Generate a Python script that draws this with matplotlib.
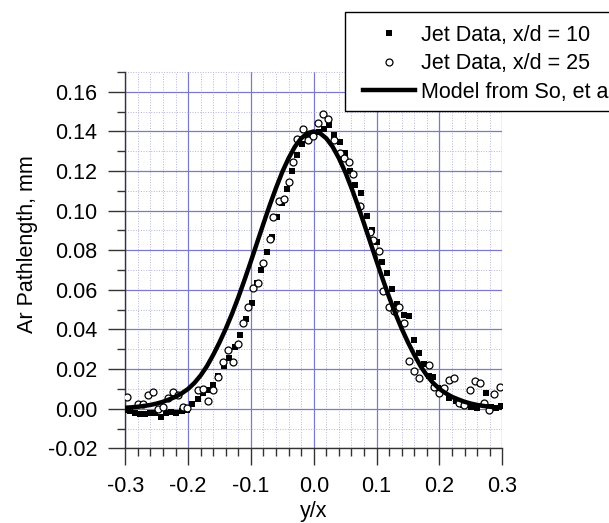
import numpy as np
import matplotlib
matplotlib.use("Agg")
import matplotlib.pyplot as plt
from matplotlib.ticker import MultipleLocator, FormatStrFormatter
from matplotlib.patches import Rectangle

plt.rcParams['font.family'] = ['Liberation Sans', 'DejaVu Sans']

# jet data, x/d = 10 (filled squares)
x10 = [-0.300, -0.292, -0.285, -0.277, -0.269, -0.261, -0.252, -0.243, -0.235, -0.227,
       -0.219, -0.210, -0.202, -0.193, -0.185, -0.177, -0.168, -0.160, -0.152, -0.143,
       -0.135, -0.126, -0.118, -0.108, -0.099, -0.091, -0.084, -0.075, -0.067, -0.059,
       -0.050, -0.042, -0.034, -0.026, -0.018, -0.009, 0.000, 0.008, 0.016, 0.024,
       0.032, 0.042, 0.050, 0.058, 0.066, 0.075, 0.084, 0.092, 0.100, 0.108,
       0.116, 0.124, 0.133, 0.143, 0.151, 0.159, 0.167, 0.176, 0.183, 0.190,
       0.198, 0.206, 0.216, 0.226, 0.238, 0.250, 0.260, 0.274, 0.282, 0.290, 0.298]
y10 = [-0.0005, -0.0012, -0.0024, -0.0028, -0.0025, -0.0022, -0.0022, -0.0042, -0.0022, -0.0016,
       -0.0020, -0.0012, -0.0006, 0.0022, 0.0047, 0.0077, 0.0094, 0.0120, 0.0165, 0.0215,
       0.0257, 0.0312, 0.0370, 0.0455, 0.0533, 0.0634, 0.0701, 0.0790, 0.0869, 0.0969,
       0.1040, 0.1109, 0.1201, 0.1282, 0.1338, 0.1370, 0.1385, 0.1395, 0.1411, 0.1433,
       0.1381, 0.1348, 0.1290, 0.1200, 0.1129, 0.1089, 0.0974, 0.0900, 0.0840, 0.0743,
       0.0684, 0.0606, 0.0527, 0.0471, 0.0466, 0.0345, 0.0280, 0.0226, 0.0164, 0.0160,
       0.0105, 0.0087, 0.0056, 0.0038, 0.0018, 0.0007, 0.0002, 0.0078, 0.0008, 0.0002, 0.0013]

# jet data, x/d = 25 (open circles)
x25 = [-0.297, -0.280, -0.272, -0.264, -0.256, -0.248, -0.240, -0.232, -0.224, -0.216,
       -0.208, -0.201, -0.185, -0.176, -0.168, -0.161, -0.152, -0.144, -0.136, -0.128,
       -0.120, -0.112, -0.104, -0.096, -0.088, -0.081, -0.070, -0.065, -0.056, -0.048,
       -0.040, -0.033, -0.026, -0.017, -0.009, -0.001, 0.007, 0.015, 0.023, 0.032,
       0.041, 0.048, 0.056, 0.063, 0.073, 0.089, 0.095, 0.104, 0.111, 0.120,
       0.128, 0.136, 0.143, 0.152, 0.160, 0.168, 0.184, 0.192, 0.200, 0.208,
       0.216, 0.223, 0.231, 0.239, 0.248, 0.256, 0.264, 0.271, 0.279, 0.287, 0.296]
y25 = [0.0060, 0.0023, 0.0025, 0.0068, 0.0082, -0.0002, 0.0010, 0.0052, 0.0082, 0.0067,
       0.0010, 0.0003, 0.0092, 0.0097, 0.0038, 0.0092, 0.0158, 0.0238, 0.0295, 0.0238,
       0.0325, 0.0432, 0.0516, 0.0611, 0.0634, 0.0734, 0.0857, 0.0966, 0.1050, 0.1059,
       0.1147, 0.1248, 0.1361, 0.1411, 0.1356, 0.1377, 0.1444, 0.1486, 0.1461, 0.1356,
       0.1293, 0.1268, 0.1248, 0.1187, 0.1025, 0.0890, 0.0852, 0.0795, 0.0595, 0.0515,
       0.0493, 0.0513, 0.0432, 0.0243, 0.0191, 0.0153, 0.0219, 0.0110, 0.0078, 0.0107,
       0.0147, 0.0153, 0.0028, 0.0020, 0.0092, 0.0140, 0.0132, 0.0028, -0.0007, 0.0072, 0.0112]

xm = [-0.30, -0.29, -0.28, -0.27, -0.26, -0.25, -0.24, -0.23, -0.22, -0.21,
      -0.20, -0.19, -0.18, -0.17, -0.16, -0.15, -0.14, -0.13, -0.12, -0.11,
      -0.10, -0.09, -0.08, -0.07, -0.06, -0.05, -0.04, -0.03, -0.02, -0.01,
      0.00, 0.01, 0.02, 0.03, 0.04, 0.05, 0.06, 0.07, 0.08, 0.09,
      0.10, 0.11, 0.12, 0.13, 0.14, 0.15, 0.16, 0.17, 0.18, 0.19,
      0.20, 0.21, 0.22, 0.23, 0.24, 0.25, 0.26, 0.27, 0.28, 0.29, 0.30]
ym = [0.0005, 0.0007, 0.0010, 0.0014, 0.0019, 0.0026, 0.0035, 0.0047, 0.0060, 0.0078,
      0.0100, 0.0130, 0.0168, 0.0215, 0.0272, 0.0335, 0.0404, 0.0480, 0.0563, 0.0652,
      0.0745, 0.0840, 0.0935, 0.1028, 0.1115, 0.1196, 0.1265, 0.1323, 0.1365, 0.1391,
      0.1400, 0.1391, 0.1365, 0.1323, 0.1265, 0.1196, 0.1115, 0.1028, 0.0935, 0.0840,
      0.0745, 0.0652, 0.0563, 0.0480, 0.0404, 0.0335, 0.0272, 0.0215, 0.0168, 0.0130,
      0.0100, 0.0078, 0.0060, 0.0047, 0.0035, 0.0026, 0.0019, 0.0014, 0.0010, 0.0007, 0.0005]

fig = plt.figure(figsize=(6.09, 5.23), dpi=100)
ax = fig.add_axes([0.2057, 0.1428, 0.619, 0.7195])

ax.plot(x10, y10, 's', color='black', ms=4, mew=0, label='Jet Data, x/d = 10', zorder=3)
ax.plot(x25, y25, 'o', mfc='white', mec='black', ms=5, mew=0.9, label='Jet Data, x/d = 25', zorder=4)
ax.plot(xm, ym, '-', color='black', lw=3.2, label='Model from So, et al.', zorder=5)

ax.set_xlim(-0.3, 0.3)
ax.set_ylim(-0.02, 0.17)
ax.xaxis.set_major_locator(MultipleLocator(0.1))
ax.xaxis.set_minor_locator(MultipleLocator(0.02))
ax.yaxis.set_minor_locator(MultipleLocator(0.01))
ax.xaxis.set_major_formatter(FormatStrFormatter('%.1f'))
ax.yaxis.set_major_formatter(FormatStrFormatter('%.2f'))
ax.set_yticks(np.arange(-0.02, 0.161, 0.02))

ax.grid(which='major', color='#7a7ac8', lw=0.9)
ax.grid(which='minor', color='#b4b4dc', lw=0.7, ls=':')
ax.set_axisbelow(True)

for s in ['top', 'right']:
    ax.spines[s].set_visible(False)
for s in ['left', 'bottom']:
    ax.spines[s].set_color('#333333')
    ax.spines[s].set_linewidth(1.0)

ax.tick_params(which='major', direction='out', length=12, width=1, color='#333333',
               labelsize=15.5, pad=8)
ax.tick_params(which='minor', direction='out', length=6, width=1, color='#333333')

ax.set_xlabel('y/x', fontsize=15.5, labelpad=3)
ax.set_ylabel('Ar Pathlength, mm', fontsize=15.5)
ax.yaxis.set_label_coords(-0.232, 0.543)

# legend box sticks out past the right edge of the figure, as in the original
fig.patches.append(Rectangle((0.5665, 0.7878), 0.5, 0.1893, transform=fig.transFigure,
                             facecolor='white', edgecolor='black', lw=1.0, zorder=1))
handles, labels = ax.get_legend_handles_labels()
fig.legend(handles, labels, loc='upper left', bbox_to_anchor=(0.596, 0.9528),
           borderaxespad=0, borderpad=0, fontsize=15.5, frameon=False,
           handlelength=2.42, handletextpad=0.28, labelspacing=0.35)

plt.savefig('out.png', dpi=100)
